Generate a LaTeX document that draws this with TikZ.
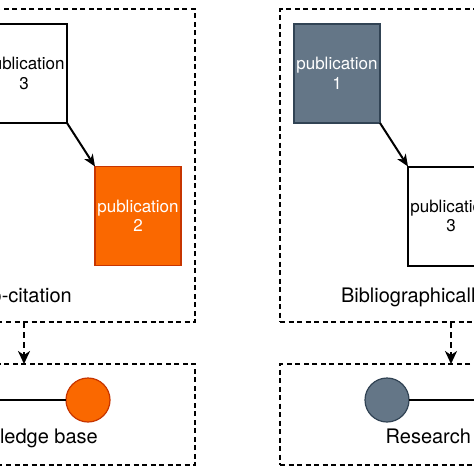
\documentclass[tikz,border=0pt]{standalone}
\usepackage{fontspec}
\setmainfont{TeX Gyre Heros}
\usetikzlibrary{arrows.meta}
\definecolor{orangefill}{HTML}{FA6800}
\definecolor{orangeline}{HTML}{C73500}
\definecolor{slatefill}{HTML}{647687}
\definecolor{slateline}{HTML}{314354}
\tikzset{
  panel/.style={draw=black, line width=2pt, dash pattern=on 5pt off 3.5pt, minimum width=342pt, inner sep=0pt, outer sep=0pt},
  pubbox/.style={minimum width=86pt, minimum height=99pt, inner sep=0pt, outer sep=0pt, align=center, font=\fontsize{17}{19.5}\selectfont},
  whitebox/.style={pubbox, draw=black, line width=2pt, fill=white, text=black},
  orangebox/.style={pubbox, draw=orangeline, line width=1.2pt, fill=orangefill, text=white},
  slatebox/.style={pubbox, draw=slateline, line width=1.2pt, fill=slatefill, text=white},
  citearrow/.style={draw=black, line width=2pt, -{Stealth[length=12pt,width=10pt,inset=3.5pt]}},
  dasharrow/.style={draw=black, line width=2.5pt, dash pattern=on 6pt off 4pt, -{Stealth[length=13pt,width=12pt,inset=4pt]}},
  lbl/.style={font=\fontsize{20}{24}\selectfont, anchor=base, inner sep=0pt},
  dot/.style={circle, minimum size=44pt, inner sep=0pt, outer sep=0pt, line width=1.2pt},
  link/.style={draw=black, line width=2.5pt},
}
\begin{document}
\begin{tikzpicture}[x=1pt, y=-1pt]
\useasboundingbox (0,0) rectangle (474,474);
\fill[white] (0,0) rectangle (474,474);
\clip (0,0) rectangle (474,474);

% left panel (co-citation)
\node[panel, minimum height=313pt] (topL) at (24,165.5) {};
\node[panel, minimum height=101pt] (botL) at (24,414.5) {};
\node[whitebox] (pubLthree) at (24,73.5) {publication\\3};
\node[orangebox] (pubLtwo) at (138,216) {publication\\2};
\draw[citearrow] (pubLthree.south east) -- (pubLtwo.north west);
\node[lbl] (labL) at (24,302) {Co-citation};
\draw[dasharrow] (topL.south) -- (botL.north);
\node[dot, draw=orangeline, fill=orangefill] (dotL) at (88,400) {};
\coordinate (lineL) at (-18,400);
\draw[link] (lineL) -- (dotL.west);
\node[lbl] (kbL) at (24,443) {Knowledge base};

% right panel (bibliographic coupling)
\node[panel, minimum height=313pt] (topR) at (451,165.5) {};
\node[panel, minimum height=101pt] (botR) at (451,414.5) {};
\node[slatebox] (pubRone) at (337,73.5) {publication\\1};
\node[whitebox] (pubRthree) at (451,216) {publication\\3};
\draw[citearrow] (pubRone.south east) -- (pubRthree.north west);
\node[lbl] (labR) at (451,302) {Bibliographically coupled};
\draw[dasharrow] (topR.south) -- (botR.north);
\node[dot, draw=slateline, fill=slatefill] (dotR) at (387,400) {};
\coordinate (lineR) at (491,400);
\draw[link] (dotR.east) -- (lineR);
\node[lbl] (rfR) at (451,443) {Research front};
\end{tikzpicture}
\end{document}
